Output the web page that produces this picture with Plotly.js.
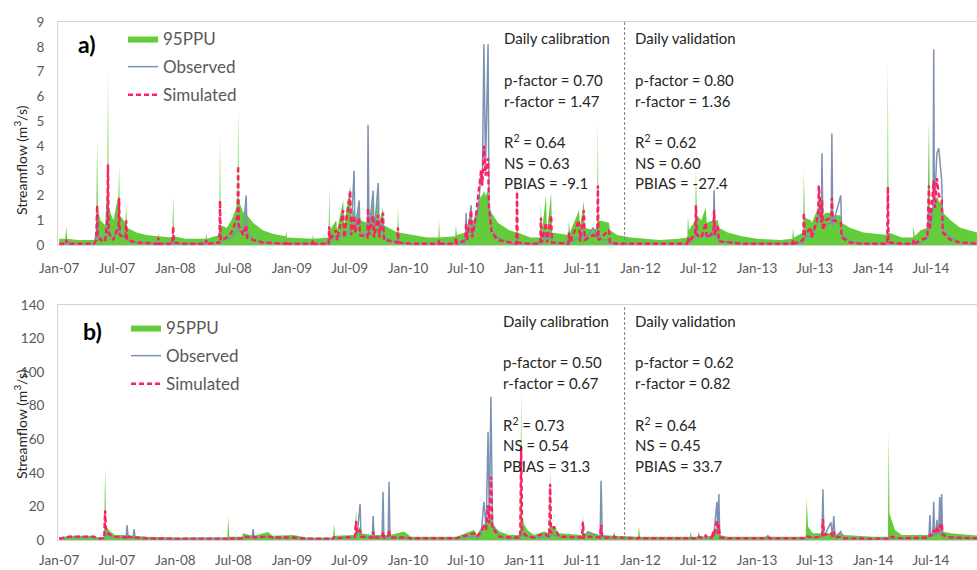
<!DOCTYPE html>
<html>
<head>
<meta charset="utf-8">
<script src="https://cdn.plot.ly/plotly-3.0.1.min.js"></script>
<style>html,body{margin:0;padding:0;background:#fff;}#chart{width:977px;height:570px;}</style>
</head>
<body>
<div id="chart"></div>
<script>
// ---------- Panel a) data (m3/s) ----------
const aDates = [
"2007-01-01","2007-01-20","2007-01-23","2007-01-26","2007-03-01","2007-04-20","2007-04-27","2007-04-29","2007-04-30","2007-05-02",
"2007-05-10","2007-05-25","2007-06-01","2007-06-03","2007-06-05","2007-06-20","2007-07-06","2007-07-08","2007-07-10","2007-07-28",
"2007-07-30","2007-08-02","2007-09-01","2007-10-01","2007-11-06","2007-11-08","2007-11-10","2007-12-22","2007-12-25","2007-12-27",
"2008-02-01","2008-04-05","2008-04-07","2008-04-09","2008-05-18","2008-05-20","2008-05-22","2008-06-10","2008-06-25","2008-07-10",
"2008-07-14","2008-07-16","2008-07-18","2008-08-01","2008-08-10","2008-08-13","2008-09-01","2008-10-01","2008-11-01","2008-12-12",
"2008-12-14","2008-12-16","2009-03-06","2009-03-08","2009-03-10","2009-04-26","2009-04-28","2009-04-30","2009-05-20","2009-05-23",
"2009-06-11","2009-06-14","2009-07-03","2009-07-06","2009-07-15","2009-07-18","2009-07-31","2009-08-03","2009-08-26","2009-08-28",
"2009-08-31","2009-09-13","2009-09-16","2009-09-29","2009-10-02","2009-10-14","2009-10-17","2009-11-28","2009-11-30","2009-12-02",
"2010-01-15","2010-03-01","2010-04-06","2010-04-08","2010-04-10","2010-05-29","2010-05-31","2010-06-03","2010-06-30","2010-07-02",
"2010-07-05","2010-07-18","2010-07-21","2010-08-02","2010-08-10","2010-08-18","2010-08-22","2010-08-27","2010-09-01","2010-09-09",
"2010-09-12","2010-09-20","2010-10-10","2010-11-15","2010-12-07","2010-12-09","2010-12-11","2011-01-20","2011-02-20","2011-02-22",
"2011-02-25","2011-03-10","2011-03-13","2011-03-26","2011-03-29","2011-05-19","2011-05-21","2011-05-24","2011-06-22","2011-06-25",
"2011-07-07","2011-07-10","2011-08-05","2011-08-18","2011-08-20","2011-08-22","2011-09-24","2011-09-27","2011-10-20","2011-12-01",
"2012-01-15","2012-03-01","2012-05-01","2012-05-27","2012-05-29","2012-06-01","2012-06-21","2012-06-23","2012-06-26","2012-07-10",
"2012-07-24","2012-07-27","2012-08-17","2012-08-19","2012-08-22","2012-08-31","2012-09-03","2012-10-01","2012-11-15","2012-12-31",
"2013-03-15","2013-04-22","2013-04-24","2013-04-27","2013-05-26","2013-05-28","2013-05-31","2013-06-19","2013-06-22","2013-07-12",
"2013-07-14","2013-07-22","2013-07-24","2013-07-27","2013-08-05","2013-08-22","2013-08-24","2013-08-27","2013-09-21","2013-09-24","2013-10-20","2013-12-01",
"2014-02-14","2014-02-16","2014-02-18","2014-04-01","2014-05-06","2014-05-08","2014-05-11","2014-05-30","2014-06-20","2014-06-25",
"2014-06-28","2014-07-08","2014-07-10","2014-07-12","2014-07-14","2014-07-20","2014-07-26","2014-08-04","2014-08-08","2014-09-01","2014-10-01","2014-11-25",
"2014-12-31"];
const aPPU = [
.25,.25,.75,.25,.2,.2,.6,2.9,4.3,1.5,
1.0,.8,2.5,7.0,1.5,1.0,2.0,3.2,1.2,.9,
1.6,.7,.5,.4,.35,.45,.35,.3,2.0,.35,
.25,.25,.5,.25,.4,4.5,.8,.7,1.0,1.5,
2.0,5.5,1.8,1.3,1.5,1.2,.9,.6,.45,.35,
.6,.3,.25,.4,.25,.3,2.3,.6,1.0,.6,
1.8,.8,2.4,1.0,1.5,1.0,1.6,1.0,.9,2.0,
1.0,1.8,.9,1.9,.9,1.5,.8,.5,1.5,.5,
.4,.3,.3,1.0,.3,.35,.8,.4,.5,1.3,
.6,1.6,.8,1.4,1.7,2.0,2.0,2.2,2.0,2.2,
1.6,1.3,.9,.6,.5,3.0,.5,.3,.3,1.7,
.5,2.0,.5,2.1,.5,.4,1.0,.5,1.4,.6,
1.8,.7,.6,.7,5.0,1.0,.9,.6,.4,.3,
.25,.2,.25,.3,1.2,.6,1.0,3.0,1.2,1.0,
1.5,.9,1.0,2.5,1.0,1.0,.7,.5,.35,.25,
.2,.25,.7,.3,.5,3.0,1.1,1.0,.9,1.5,
2.5,1.4,2.0,1.2,1.3,1.3,2.2,1.2,1.2,.9,.7,.5,
.4,7.4,.5,.3,.3,.8,.35,.6,.7,5.0,
1.3,1.6,2.0,1.6,1.5,2.0,1.8,1.6,1.3,1.0,.7,.5,
.4];
const aObs = [
.05,.05,.15,.05,.05,.05,.2,.6,1.2,.4,
.3,.2,.5,1.8,.4,.3,.5,.8,.4,.3,
.5,.2,.1,.08,.05,.2,.05,.05,.3,.05,
.05,.05,.1,.05,.05,.8,.2,.2,.3,.5,
.6,1.0,.6,.5,2.0,.5,.2,.1,.08,.05,
.1,.05,.05,.1,.05,.05,.3,.1,.3,.2,
.5,.3,.6,.4,3.0,.5,1.8,.5,.4,4.85,
.5,2.2,.4,2.5,.4,1.0,.3,.1,.3,.1,
.05,.05,.05,.2,.05,.05,.2,.05,.1,1.3,
.2,1.6,.3,1.0,1.5,3.0,2.5,8.1,3.0,8.1,
1.5,.6,.3,.1,.05,.4,.05,.05,.05,.4,
.1,.4,.1,.5,.1,.05,.2,.1,.3,.15,
.6,.2,.7,.3,.6,.2,.2,.1,.05,.05,
.05,.05,.05,.05,.2,.1,.3,.8,.4,.3,
.5,.3,.4,2.2,.4,.3,.15,.1,.05,.05,
.05,.05,.1,.05,.1,.4,.3,.4,.3,1.0,
1.5,1.0,3.7,.7,.8,.9,4.5,.8,2.0,.4,.15,.05,
.05,.3,.05,.05,.05,.2,.05,.1,.3,1.5,
.7,1.5,7.9,1.8,2.0,3.7,3.9,2.6,.6,.3,.1,.05,
.05];
const aSim = [
.05,.05,.2,.05,.05,.05,.2,1.0,1.6,.4,
.2,.15,1.0,3.25,.5,.2,.8,1.9,.4,.3,
1.0,.2,.1,.08,.05,.3,.05,.05,.75,.1,
.05,.05,.2,.05,.1,1.8,.2,.3,.5,1.0,
1.2,3.2,.8,.4,.8,.3,.2,.1,.08,.05,
.15,.05,.05,.2,.05,.05,.75,.2,.6,.2,
1.4,.3,2.2,.4,1.2,.5,1.1,.4,.3,1.5,
.4,1.2,.3,1.2,.3,1.3,.2,.1,.7,.1,
.05,.05,.05,.2,.05,.05,.3,.05,.2,.9,
.2,1.4,.3,1.2,2.0,3.0,2.4,4.0,2.8,3.5,
1.5,.5,.2,.1,.05,2.15,.1,.05,.05,1.1,
.1,.9,.1,1.2,.1,.05,.5,.1,1.0,.15,
1.4,.2,.4,.3,2.4,.2,.6,.1,.05,.05,
.05,.05,.05,.05,.3,.1,.5,1.6,.4,.3,
.9,.3,.5,1.4,.4,.8,.15,.1,.05,.05,
.05,.05,.2,.05,.2,1.3,.4,.7,.3,1.2,
2.4,.9,1.8,.6,1.0,1.1,1.9,1.0,.9,.3,.1,.05,
.05,2.35,.1,.05,.05,.2,.05,.2,.3,2.4,
.6,2.0,2.6,1.8,1.5,2.7,2.0,1.8,.5,.2,.1,.05,
.05];

// ---------- Panel b) data (m3/s) ----------
const bDates = [
"2007-01-01","2007-02-01","2007-04-20","2007-05-01","2007-05-22","2007-05-25","2007-05-28","2007-06-10","2007-06-25","2007-07-30",
"2007-08-02","2007-08-05","2007-08-21","2007-08-24","2007-08-27","2007-10-01","2008-01-01","2008-06-12","2008-06-15","2008-06-18",
"2008-07-28","2008-08-01","2008-08-29","2008-09-01","2008-09-04","2008-10-18","2008-11-01","2009-01-05","2009-02-15","2009-05-10",
"2009-05-13","2009-05-16","2009-07-18","2009-07-21","2009-07-25","2009-08-03","2009-08-06","2009-09-10","2009-09-13","2009-09-16",
"2009-10-11","2009-10-14","2009-10-17","2009-10-30","2009-11-02","2009-11-05","2009-12-19","2010-01-10","2010-06-01","2010-07-27",
"2010-08-05","2010-08-18","2010-08-27","2010-09-03","2010-09-09","2010-09-13","2010-09-18","2010-09-23","2010-09-28","2010-10-15",
"2010-11-15","2010-12-19","2010-12-22","2010-12-25","2011-01-10","2011-02-01","2011-03-04","2011-03-20","2011-03-23","2011-03-26",
"2011-04-04","2011-04-20","2011-07-01","2011-07-04","2011-07-07","2011-07-20","2011-08-27","2011-08-30","2011-09-03","2011-10-07",
"2011-10-10","2011-10-13","2011-12-24","2011-12-27","2011-12-30","2012-06-04","2012-06-07","2012-06-10","2012-06-29","2012-07-02",
"2012-07-05","2012-07-21","2012-07-24","2012-07-27","2012-08-12","2012-08-15","2012-08-18","2012-08-28","2012-08-31","2012-09-03",
"2012-09-06","2012-10-01","2013-01-25","2013-02-04","2013-02-15","2013-06-03","2013-06-06","2013-06-10","2013-06-25","2013-07-24",
"2013-07-27","2013-07-30","2013-08-21","2013-08-26","2013-08-30","2013-09-03","2013-09-21","2013-10-01","2014-01-01","2014-02-16",
"2014-02-19","2014-02-21","2014-03-10","2014-04-01","2014-06-25","2014-06-28","2014-07-01","2014-07-07","2014-07-10","2014-07-13",
"2014-07-17","2014-07-20","2014-07-25","2014-07-29","2014-08-01","2014-08-04","2014-08-07","2014-09-01","2014-12-31"];
const bPPU = [
1.5,2.5,2.5,1.5,2,43,8,5,3,3,
4,3,2.5,3,2.5,2,1.5,1.5,13.7,2,
2,4,2.5,3,2.5,4.8,2.5,3,1.5,1.5,
9.9,2.5,3,18,5,8,4,3,6,3,
3,8,3,3,7,3,5,2,2,6,
3,7,10,8,15,10,15,10,8,5,
3,3,89,12,6,3,5,4,42,8,
8,4,3,15,3,5,3,10,3,2.5,
5,2.5,2,8,2,2,5,2,2,5,
2,2,4,2,2.5,6,3,8,4,8,
3,2,2,2,2,2,25,8,4,4,
6,4,4,3,5,3,4,3,2,2,
63.7,16,6,3,3,6,4,4,8,5,
5,8,5,8,6,8,5,4,2];
const bObs = [
.8,1.5,1.5,.8,1,5,3,2,2,1.5,
8.9,2,1.5,6.5,1.5,1,.8,.8,1,.8,
1,1.5,1.5,6.5,1.5,2,1.5,1.5,.8,.8,
1.5,1,1.5,5,3,21.4,2,1.5,14.3,1.5,
1.5,28.8,1.5,1.5,34.7,1.5,1.5,1,1,2,
1.5,3,22.8,6,64.5,10,85.4,8,8,2,
1.5,1.5,3,3,2,1.5,2,2,5,3,
3,2,1.5,3,1.5,5,1.5,35.3,1.5,1.5,
1.5,1.5,1,1,1,1,1,1,1,1.5,
1.5,1.5,2,1.5,1.5,3,2,22.8,3,27.4,
1.5,1,1,2.5,1,1,2,1.5,1.5,2,
30.2,2,10.5,2,14.3,1.5,5,1,.8,.8,
1.5,1.5,1,1,1.5,14.9,3,3,22.8,3,
3,12,3,25.6,4,27.4,2,1.5,.8];
const bSim = [
.8,2,2,.8,1,17.5,5,3,2,1.5,
3,2,1.5,2,1.5,1,.8,.8,1.5,.8,
1,2,1.5,2,1.5,2,1.5,1.5,.8,.8,
2,1,2,11.3,4,6,2,1.5,5,1.5,
1.5,5,1.5,1.5,6,1.5,1.5,1,1,4,
2,5,8,6,20.8,10,37.7,6,6,2,
1.5,1.5,55.6,5,2,1.5,4,2,33.4,4,
8,2,1.5,10.9,1.5,2,1.5,9,1.5,1.5,
2,1.5,1,1.5,1,1,1.5,1,1,2,
1.5,1.5,3,1.5,1.5,5,2,11.9,4,9,
1.5,1,1,1,1,1,2,2,1.5,2,
12.5,3,4,2,5,1.5,2,1,.8,.8,
2,2,1.5,1,1.5,3,2.5,3,6,4,
4,8,5,9,6,10,3,1.5,.8];

// ---------- Statistics text ----------
const calA = ["Daily calibration","p-factor = 0.70","r-factor = 1.47","R<sup>2</sup> = 0.64","NS = 0.63","PBIAS = -9.1"];
const valA = ["Daily validation","p-factor = 0.80","r-factor = 1.36","R<sup>2</sup> = 0.62","NS = 0.60","PBIAS = -27.4"];
const calB = ["Daily calibration","p-factor = 0.50","r-factor = 0.67","R<sup>2</sup> = 0.73","NS = 0.54","PBIAS = 31.3"];
const valB = ["Daily validation","p-factor = 0.62","r-factor = 0.82","R<sup>2</sup> = 0.64","NS = 0.45","PBIAS = 33.7"];
const splitDate = "2011-11-12";
const seriesNames = ["95PPU","Observed","Simulated"];

// ---------- geometry helpers ----------
const W=977,H=570,L=58,R=0,T=22,B=30;
const pw=W-L-R, ph=H-T-B;
const px = x => (x-L)/pw;
const py = y => (H-B-y)/ph;

const FONT = "Lato, 'Open Sans', sans-serif";
const GREEN = "#63cc3a", OBS = "#7d92b3", SIM = "#ff1f63";

function traces(dates, ppu, obs, sim, xa, ya, leg){
  return [
    {x:dates, y:ppu, type:"scatter", mode:"lines", fill:"tozeroy", fillcolor:GREEN,
     line:{width:0, color:GREEN}, name:seriesNames[0], xaxis:xa, yaxis:ya, legend:leg, legendgroup:leg+"g1", hoverinfo:"skip"},
    {x:dates, y:obs, type:"scatter", mode:"lines", line:{width:1.5, color:OBS},
     name:seriesNames[1], xaxis:xa, yaxis:ya, legend:leg, legendgroup:leg+"g2"},
    {x:dates, y:sim, type:"scatter", mode:"lines", line:{width:2.4, color:SIM, dash:"5px,3px"},
     name:seriesNames[2], xaxis:xa, yaxis:ya, legend:leg, legendgroup:leg+"g3"}
  ];
}
const data = [].concat(
  traces(aDates,aPPU,aObs,aSim,"x","y","legend"),
  traces(bDates,bPPU,bObs,bSim,"x2","y2","legend2")
);

const xCommon = {type:"date", range:["2006-12-28","2014-11-23"], tickformat:"%b-%y", dtick:"M6", tick0:"2007-01-01",
  showgrid:false, zeroline:false, showline:true, mirror:true, linecolor:"#d4d4d4", linewidth:1, ticks:"",
  tickfont:{family:FONT, size:13.5, color:"#595959"}, fixedrange:true};
const yCommon = {showgrid:false, zeroline:false, showline:true, linecolor:"#d4d4d4", linewidth:1, ticks:"",
  ticklabelstandoff:10, tickfont:{family:FONT, size:13.5, color:"#595959"}, fixedrange:true};

const annotations = [];
function statBlock(lines, x, y0){
  const offs=[0,41.7,62.5,103.5,124.4,145];
  lines.forEach((t,i)=>annotations.push({text:t, xref:"paper", yref:"paper", x:px(x), y:py(y0+offs[i]),
    xanchor:"left", yanchor:"middle", showarrow:false, font:{family:FONT, size:15, color:"#262626"}}));
}
statBlock(calA, 502, 38.3); statBlock(valA, 633, 38.3);
statBlock(calB, 501, 320.7); statBlock(valB, 633, 320.7);
annotations.push({text:"<b>a)</b>", xref:"paper", yref:"paper", x:px(76), y:py(44.5), xanchor:"left", yanchor:"middle", showarrow:false, font:{family:FONT, size:23, color:"#000"}});
annotations.push({text:"<b>b)</b>", xref:"paper", yref:"paper", x:px(81), y:py(331), xanchor:"left", yanchor:"middle", showarrow:false, font:{family:FONT, size:23, color:"#000"}});
annotations.push({text:"Streamflow (m<sup>3</sup>/s)", xref:"paper", yref:"paper", x:px(20), y:py(160), textangle:-90, xanchor:"center", yanchor:"middle", showarrow:false, font:{family:FONT, size:14, color:"#262626"}});
annotations.push({text:"Streamflow (m<sup>3</sup>/s)", xref:"paper", yref:"paper", x:px(20), y:py(424), textangle:-90, xanchor:"center", yanchor:"middle", showarrow:false, font:{family:FONT, size:14, color:"#262626"}});

const legendCommon = {xanchor:"left", yanchor:"top", bgcolor:"rgba(0,0,0,0)", font:{family:FONT, size:17, color:"#595959"},
  itemwidth:30, traceorder:"grouped", tracegroupgap:3, borderwidth:0};

const layout = {
  width:W, height:H, margin:{l:L, r:R, t:T, b:B, pad:0},
  paper_bgcolor:"#fff", plot_bgcolor:"#fff", showlegend:true,
  xaxis:Object.assign({}, xCommon, {domain:[0,1], anchor:"y", ticklabelstandoff:11}),
  yaxis:Object.assign({}, yCommon, {domain:[py(245),1], range:[0,9], dtick:1, anchor:"x"}),
  xaxis2:Object.assign({}, xCommon, {domain:[0,1], anchor:"y2", ticklabelstandoff:8}),
  yaxis2:Object.assign({}, yCommon, {domain:[0,py(305)], range:[0,140], dtick:20, anchor:"x2"}),
  legend:Object.assign({}, legendCommon, {x:px(123), y:py(21)}),
  legend2:Object.assign({}, legendCommon, {x:px(126), y:py(310)}),
  shapes:[
    {type:"line", xref:"x", yref:"y domain", x0:splitDate, x1:splitDate, y0:0, y1:1, line:{color:"#808080", width:1, dash:"3px,2px"}},
    {type:"line", xref:"x2", yref:"y2 domain", x0:splitDate, x1:splitDate, y0:0, y1:1, line:{color:"#808080", width:1, dash:"3px,2px"}}
  ],
  annotations:annotations
};
Plotly.newPlot("chart", data, layout, {displayModeBar:false, staticPlot:true});
</script>
</body>
</html>
